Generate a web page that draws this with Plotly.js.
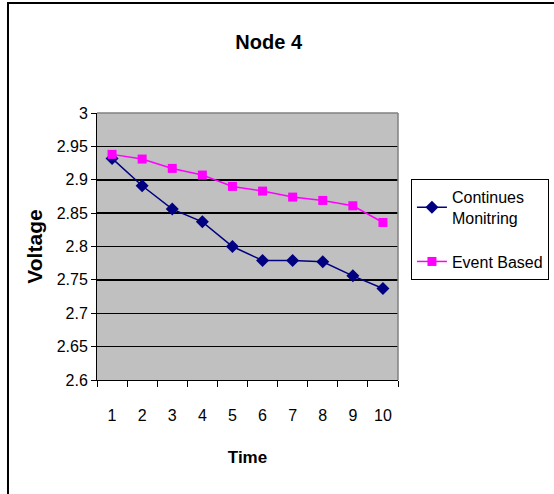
<!DOCTYPE html>
<html>
<head>
<meta charset="utf-8">
<script src="https://cdn.plot.ly/plotly-3.0.1.min.js"></script>
<style>
  html, body { margin: 0; padding: 0; background: #fff; }
  #chart { width: 554px; height: 494px; }
</style>
</head>
<body>
<div id="chart"></div>
<script>
// Time steps on the x axis
const timeSteps = ['1', '2', '3', '4', '5', '6', '7', '8', '9', '10'];

// Node voltage under each strategy
const continuesMonitring = [2.932, 2.891, 2.856, 2.837, 2.800, 2.779, 2.779, 2.777, 2.756, 2.737];
const eventBased = [2.938, 2.931, 2.917, 2.907, 2.890, 2.883, 2.874, 2.869, 2.861, 2.836];

const seriesNames = ['Continues<br>Monitring', 'Event Based'];

const font = '"Liberation Sans", Arial, sans-serif';

const traces = [
  {
    x: timeSteps,
    y: continuesMonitring,
    name: seriesNames[0],
    legendgroup: 'cm',
    type: 'scatter',
    mode: 'lines+markers',
    line: { color: '#000080', width: 1.5 },
    marker: { symbol: 'diamond', size: 10, color: '#000080' }
  },
  {
    x: timeSteps,
    y: eventBased,
    name: seriesNames[1],
    legendgroup: 'eb',
    type: 'scatter',
    mode: 'lines+markers',
    line: { color: '#FF00FF', width: 1.5 },
    marker: { symbol: 'square', size: 9, color: '#FF00FF' }
  }
];

const layout = {
  width: 554,
  height: 494,
  margin: { l: 97, r: 156, t: 113, b: 114, autoexpand: false },
  paper_bgcolor: '#ffffff',
  plot_bgcolor: '#C0C0C0',
  font: { family: font, size: 16, color: '#000' },
  title: {
    text: '<b>Node 4</b>',
    font: { family: font, size: 20, color: '#000' },
    x: 0.485, xanchor: 'center',
    y: 0.915, yanchor: 'middle'
  },
  xaxis: {
    type: 'category',
    tickson: 'boundaries',
    ticks: 'outside',
    ticklen: 6,
    tickcolor: '#000',
    tickwidth: 1,
    tickangle: 0,
    showgrid: false,
    showline: true,
    linecolor: '#000',
    linewidth: 1,
    ticklabelstandoff: 21,
    tickfont: { family: font, size: 16 },
    title: { text: '<b>Time</b>', font: { family: font, size: 17 }, standoff: 27 },
    range: [-0.5, 9.5],
    fixedrange: true
  },
  yaxis: {
    range: [2.6, 3.0],
    dtick: 0.05,
    tick0: 2.6,
    ticks: 'outside',
    ticklen: 5,
    tickcolor: '#000',
    showgrid: true,
    gridcolor: '#000',
    gridwidth: 1.5,
    showline: true,
    linecolor: '#000',
    linewidth: 1,
    zeroline: false,
    tickfont: { family: font, size: 16 },
    title: { text: '<b>Voltage</b>', font: { family: font, size: 21 }, standoff: 8 },
    fixedrange: true
  },
  legend: {
    x: 1.043, xanchor: 'left',
    y: 0.753, yanchor: 'top',
    bgcolor: '#ffffff',
    bordercolor: '#000',
    borderwidth: 1,
    font: { family: font, size: 16 },
    traceorder: 'grouped',
    tracegroupgap: 20,
    itemwidth: 30
  },
  showlegend: true,
  shapes: [
    // plot area frame (top and right sides)
    { type: 'line', xref: 'paper', yref: 'paper', x0: 0, x1: 1, y0: 1, y1: 1,
      line: { color: '#808080', width: 1.5 } },
    { type: 'line', xref: 'paper', yref: 'paper', x0: 1, x1: 1, y0: 0, y1: 1,
      line: { color: '#808080', width: 1.5 } },
    // outer chart border
    { type: 'rect', xref: 'paper', yref: 'paper',
      x0: -0.2957, x1: 1.56, y0: -0.47, y1: 1.412,
      line: { color: '#000', width: 2 }, fillcolor: 'rgba(0,0,0,0)' }
  ]
};

Plotly.newPlot('chart', traces, layout, { displayModeBar: false, staticPlot: true });
</script>
</body>
</html>
